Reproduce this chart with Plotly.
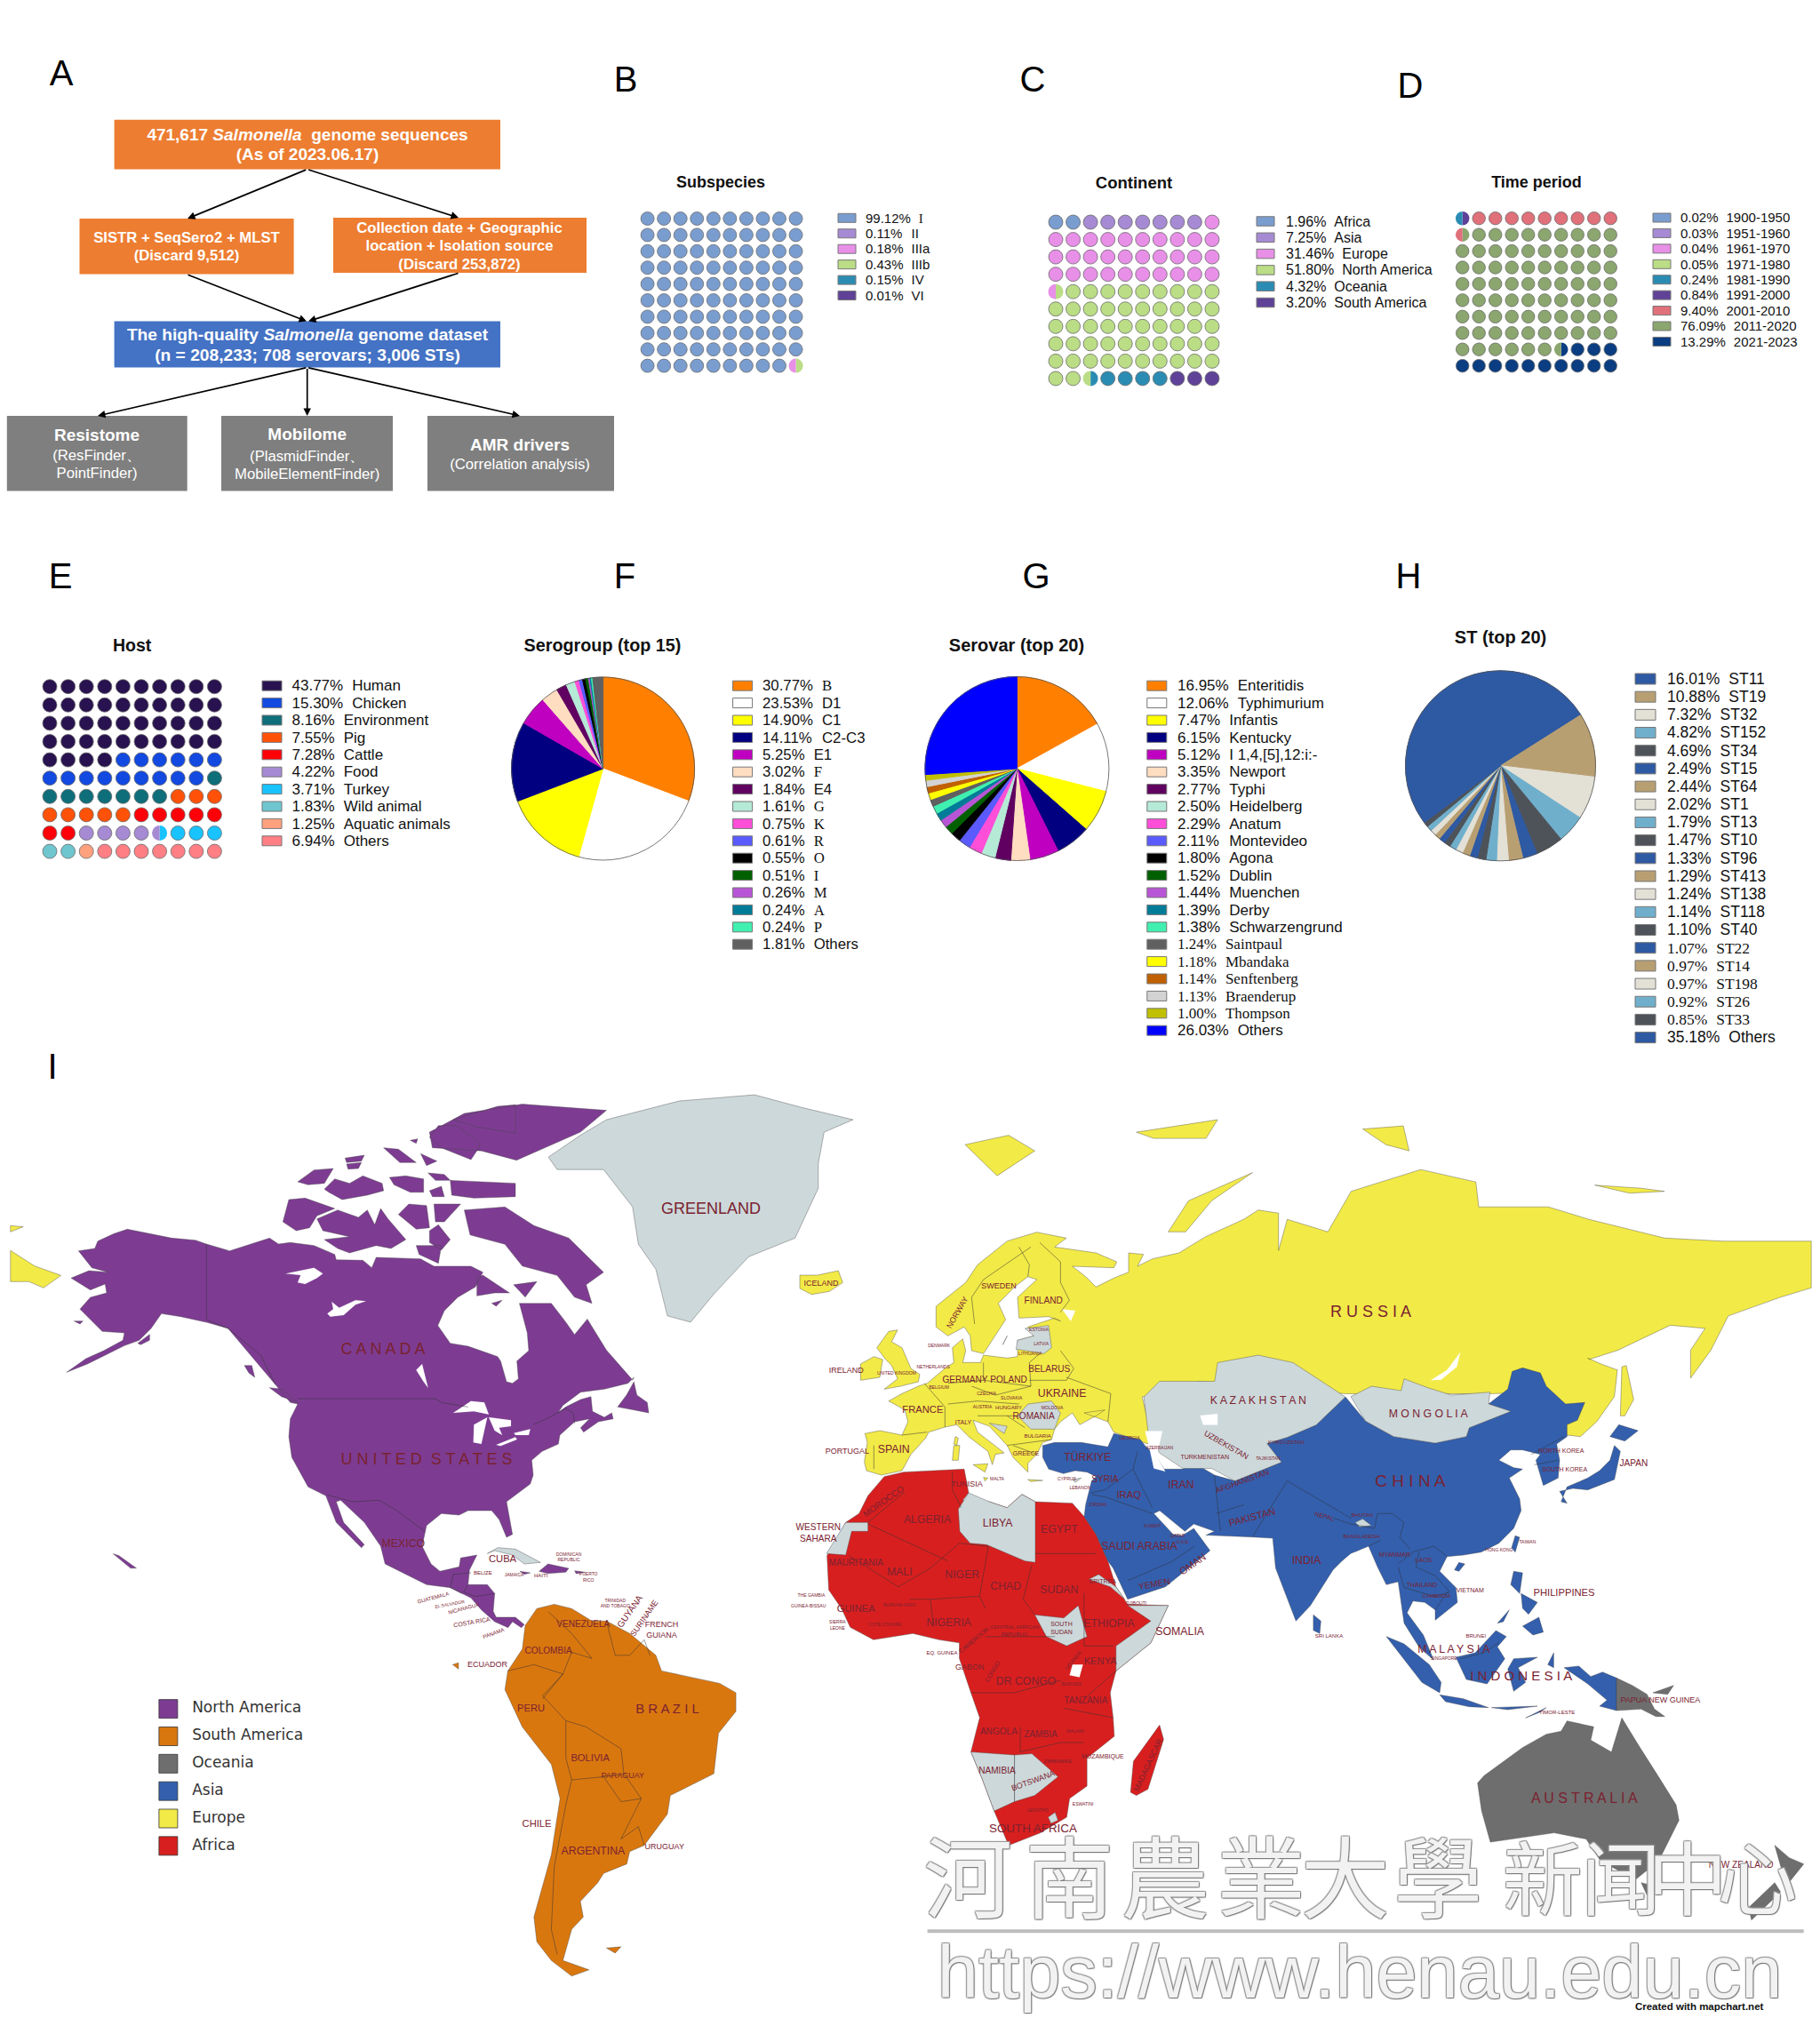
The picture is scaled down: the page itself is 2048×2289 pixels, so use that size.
import plotly.graph_objects as go

SANS = "Liberation Sans"
SERIF = "Liberation Serif"
W, H = 2048, 2289

# ---------- palettes ----------
pal_sub = ["#7A9DD0", "#A68AD3", "#E88FE8", "#BADD85", "#2B8CB3", "#5F4298"]
pal_time = pal_sub[:6] + ["#E0707A", "#8BA66E", "#0A3D82"]
pal_host = ["#28124F", "#1249E0", "#0E6E7A", "#FF5208", "#FF0008", "#A68AD3", "#19C3FF", "#6FC6CF", "#FFA17E", "#FF7F85"]
pal_sero = ["#FF8000", "#FFFFFF", "#FFFF00", "#000080", "#C000C0", "#FFDDC0", "#600060", "#B5EAD7", "#FF4FD8", "#5A5AFF",
            "#000000", "#006000", "#B855D6", "#007C99", "#40F0B0", "#606060"]
pal_serovar = pal_sero[:15] + ["#606060", "#FFFF00", "#C06000", "#D3D3D3", "#C0C000", "#0000FF"]
st_cycle = ["#2E59A3", "#B89F72", "#E3E0D6", "#70AFCC", "#4E5359"]
pal_st = [st_cycle[i % 5] for i in range(21)]

# ---------- panel data ----------
sub_names = ["I", "II", "IIIa", "IIIb", "IV", "VI"]
sub_pct = [99.12, 0.11, 0.18, 0.43, 0.15, 0.01]
cont_names = ["Africa", "Asia", "Europe", "North America", "Oceania", "South America"]
cont_pct = [1.96, 7.25, 31.46, 51.80, 4.32, 3.20]
time_names = ["1900-1950", "1951-1960", "1961-1970", "1971-1980", "1981-1990", "1991-2000", "2001-2010", "2011-2020", "2021-2023"]
time_pct = [0.02, 0.03, 0.04, 0.05, 0.24, 0.84, 9.40, 76.09, 13.29]
host_names = ["Human", "Chicken", "Environment", "Pig", "Cattle", "Food", "Turkey", "Wild animal", "Aquatic animals", "Others"]
host_pct = [43.77, 15.30, 8.16, 7.55, 7.28, 4.22, 3.71, 1.83, 1.25, 6.94]
sero_names = ["B", "D1", "C1", "C2-C3", "E1", "F", "E4", "G", "K", "R", "O", "I", "M", "A", "P", "Others"]
sero_pct = [30.77, 23.53, 14.90, 14.11, 5.25, 3.02, 1.84, 1.61, 0.75, 0.61, 0.55, 0.51, 0.26, 0.24, 0.24, 1.81]
serovar_names = ["Enteritidis", "Typhimurium", "Infantis", "Kentucky", "I 1,4,[5],12:i:-", "Newport", "Typhi", "Heidelberg",
                 "Anatum", "Montevideo", "Agona", "Dublin", "Muenchen", "Derby", "Schwarzengrund", "Saintpaul", "Mbandaka",
                 "Senftenberg", "Braenderup", "Thompson", "Others"]
serovar_pct = [16.95, 12.06, 7.47, 6.15, 5.12, 3.35, 2.77, 2.50, 2.29, 2.11, 1.80, 1.52, 1.44, 1.39, 1.38, 1.24, 1.18, 1.14, 1.13, 1.00, 26.03]
st_names = ["ST11", "ST19", "ST32", "ST152", "ST34", "ST15", "ST64", "ST1", "ST13", "ST10", "ST96", "ST413", "ST138", "ST118",
            "ST40", "ST22", "ST14", "ST198", "ST26", "ST33", "Others"]
st_pct = [16.01, 10.88, 7.32, 4.82, 4.69, 2.49, 2.44, 2.02, 1.79, 1.47, 1.33, 1.29, 1.24, 1.14, 1.10, 1.07, 0.97, 0.97, 0.92, 0.85, 35.18]

# waffle runs: (category index, count) or ((left index, right index), 1)
sub_cells = [(0, 99), ((2, 3), 1)]
cont_cells = [(0, 2), (1, 7), (2, 31), ((2, 3), 1), (3, 51), ((3, 4), 1), (4, 4), (5, 3)]
time_cells = [((4, 5), 1), (6, 9), ((6, 7), 1), (7, 75), ((7, 8), 1), (8, 13)]
host_cells = [(0, 44), (1, 15), (2, 8), (3, 8), (4, 7), (5, 4), ((5, 6), 1), (6, 3), (7, 2), (8, 1), (9, 7)]

fig = go.Figure()
TY = 1.5  # small downward nudge of text centred on a baseline estimate


def add_waffle(cells, palette, x0, y0, dx, dy, size):
    xs = {}
    n = 0
    for cat, count in cells:
        for _ in range(count):
            cx, cy = x0 + dx * (n % 10), y0 + dy * (n // 10)
            if isinstance(cat, tuple):
                r = size / 2 + 0.5
                fig.add_trace(go.Pie(values=[1, 1], sort=False, direction="clockwise", rotation=0,
                                     marker=dict(colors=[palette[cat[1]], palette[cat[0]]], line=dict(width=0)),
                                     textinfo="none", hoverinfo="skip", showlegend=False,
                                     domain=dict(x=[(cx - r) / W, (cx + r) / W], y=[1 - (cy + r) / H, 1 - (cy - r) / H])))
            else:
                xs.setdefault(cat, ([], []))
                xs[cat][0].append(cx)
                xs[cat][1].append(cy)
            n += 1
    for cat, (px, py) in xs.items():
        fig.add_trace(go.Scatter(x=px, y=py, mode="markers", hoverinfo="skip",
                                 marker=dict(symbol="circle", size=size, color=palette[cat], line=dict(color="#6a6a6a", width=0.8))))


shapes = []


def add_legend(pcts, names, palette, sw_x, y0, dy, sw_w, sw_h, text_x, fs, gap, label_fonts=None, pct_fonts=None):
    n = len(pcts)
    for i in range(n):
        y = y0 + dy * i
        shapes.append(dict(type="rect", xref="x", yref="y", x0=sw_x, x1=sw_x + sw_w, y0=y - sw_h / 2, y1=y + sw_h / 2,
                           fillcolor=palette[i], line=dict(color="#777777", width=1)))
    ptxt = [f"{p:.2f}%" for p in pcts]
    pfam = pct_fonts or [SANS] * n
    lfam = label_fonts or [SANS] * n
    lx = []
    for i, t in enumerate(ptxt):
        digits = len(t) - 2
        em = (0.556 * digits + 0.278 + 0.889) if pfam[i] == SANS else (0.5 * digits + 0.25 + 0.833)
        lx.append(text_x + em * fs + gap)
    ys = [y0 + dy * i + TY for i in range(n)]
    fig.add_trace(go.Scatter(x=[text_x] * n, y=ys, text=ptxt, mode="text", textposition="middle right", hoverinfo="skip",
                             textfont=dict(family=pfam, size=fs, color="#111111")))
    fig.add_trace(go.Scatter(x=lx, y=ys, text=names, mode="text", textposition="middle right", hoverinfo="skip",
                             textfont=dict(family=lfam, size=fs, color="#111111")))


def add_pie(values, palette, cx, cy, r):
    fig.add_trace(go.Pie(values=values, sort=False, direction="clockwise", rotation=0,
                         marker=dict(colors=palette, line=dict(color=palette, width=1)),
                         textinfo="none", hoverinfo="skip", showlegend=False,
                         domain=dict(x=[(cx - r) / W, (cx + r) / W], y=[1 - (cy + r) / H, 1 - (cy - r) / H])))
    shapes.append(dict(type="circle", xref="x", yref="y", x0=cx - r, x1=cx + r, y0=cy - r, y1=cy + r,
                       line=dict(color="#555555", width=0.8), layer="above"))


# ---------- flowchart ----------
flow_boxes = [
    (128.6, 563, 134.7, 190.5, "#ED7D31"), (89.5, 330.6, 246, 308.6, "#ED7D31"), (375, 660, 245, 307, "#ED7D31"),
    (128.6, 563, 361.6, 413.6, "#4472C4"), (7.8, 210.7, 468, 552.4, "#7F7F7F"), (249, 442, 468, 552.4, "#7F7F7F"),
    (481, 691, 468, 552.4, "#7F7F7F"),
]
for x0, x1, y0, y1, c in flow_boxes:
    shapes.append(dict(type="rect", xref="x", yref="y", x0=x0, x1=x1, y0=y0, y1=y1, fillcolor=c, line=dict(width=0), layer="below"))

flow_text = ["<b>471,617 <i>Salmonella</i>  genome sequences</b>", "<b>(As of 2023.06.17)</b>", "<b>SISTR + SeqSero2 + MLST</b>",
             "<b>(Discard 9,512)</b>", "<b>Collection date + Geographic</b>", "<b>location + Isolation source</b>",
             "<b>(Discard 253,872)</b>", "<b>The high-quality <i>Salmonella</i> genome dataset</b>",
             "<b>(n = 208,233; 708 serovars; 3,006 STs)</b>", "<b>Resistome</b>", "(ResFinder、", "PointFinder)", "<b>Mobilome</b>",
             "(PlasmidFinder、", "MobileElementFinder)", "<b>AMR drivers</b>", "(Correlation analysis)"]
flow_x = [346, 346, 210, 210, 517, 517, 517, 346, 346, 109, 109, 109, 345.7, 345.7, 345.7, 585, 585]
flow_y = [v + TY for v in [152, 174, 267, 287, 256, 276.6, 297, 377, 400, 490, 512, 532, 489, 513.5, 533.5, 500.7, 522]]
flow_size = [19, 19, 16.7, 16.7, 16.7, 16.7, 16.7, 19.2, 19.2, 19, 16.7, 16.7, 19, 16.7, 16.7, 19, 16.7]
fig.add_trace(go.Scatter(x=flow_x, y=flow_y, text=flow_text, mode="text", hoverinfo="skip",
                         textfont=dict(family=SANS, size=flow_size, color="#FFFFFF")))

flow_arrows = [(345.7, 190.5, 211, 246), (345.7, 190.5, 516, 245), (210, 308.6, 345, 361.6), (517, 307, 347, 361.6),
               (345.7, 413.6, 110, 468), (345.7, 413.6, 345.7, 468), (345.7, 413.6, 585, 468)]
annotations = []
for ax, ay, x, y in flow_arrows:
    annotations.append(dict(x=x, y=y, ax=ax, ay=ay, xref="x", yref="y", axref="x", ayref="y", text="", showarrow=True,
                            arrowhead=2, arrowsize=1, arrowwidth=1.7, arrowcolor="#000000"))

# ---------- panels ----------
add_waffle(sub_cells, pal_sub, 728.6, 246, 18.55, 18.4, 15)
add_legend(sub_pct, sub_names, pal_sub, 943, 245.3, 17.45, 20, 10, 974, 15, 9, label_fonts=[SERIF] + [SANS] * 5)
add_waffle(cont_cells, pal_sub, 1188, 250, 19.55, 19.55, 16)
add_legend(cont_pct, cont_names, pal_sub, 1414, 249, 18.3, 20, 10.5, 1447, 16, 9)
add_waffle(time_cells, pal_time, 1645.7, 245.7, 18.5, 18.44, 14.5)
add_legend(time_pct, time_names, pal_time, 1860, 245, 17.43, 20, 10, 1891, 15, 9)
add_waffle(host_cells, pal_host, 56, 772.7, 20.6, 20.6, 16)
add_legend(host_pct, host_names, pal_host, 295, 771.7, 19.4, 22, 11, 328.5, 17, 10)

add_pie(sero_pct, pal_sero, 678.6, 865, 103)
sero_fonts = [SERIF if len(n) == 1 else SANS for n in sero_names]
add_legend(sero_pct, sero_names, pal_sero, 824.6, 771.7, 19.4, 22, 11, 858, 16.8, 10, label_fonts=sero_fonts)

add_pie(serovar_pct, pal_serovar, 1144.4, 865, 103.5)
sv_fonts = [SERIF if 15 <= i <= 19 else SANS for i in range(21)]
add_legend(serovar_pct, serovar_names, pal_serovar, 1290.8, 771.7, 19.4, 22, 11, 1325, 17, 10, label_fonts=sv_fonts, pct_fonts=sv_fonts)

add_pie(st_pct, pal_st, 1688.5, 861.8, 107)
st_fonts = [SERIF if 15 <= i <= 19 else SANS for i in range(21)]
add_legend(st_pct, st_names, pal_st, 1840, 764, 20.18, 23, 12, 1876, 17.5, 10, label_fonts=st_fonts, pct_fonts=st_fonts)

title_text = ["Subspecies", "Continent", "Time period", "Host", "Serogroup (top 15)", "Serovar (top 20)", "ST (top 20)"]
title_x = [811, 1276, 1729, 148.6, 678, 1144, 1688.5]
title_y = [206, 207, 206, 728, 728, 728, 719]
title_size = [18, 18.5, 18, 19.5, 19.8, 20, 20]
fig.add_trace(go.Scatter(x=title_x, y=title_y, text=[f"<b>{t}</b>" for t in title_text], mode="text", hoverinfo="skip",
                         textfont=dict(family=SANS, size=title_size, color="#111111")))
panel_letters = ["A", "B", "C", "D", "E", "F", "G", "H", "I"]
letter_x = [69, 704, 1162, 1587, 68, 703, 1166, 1585, 59]
letter_y = [86, 93, 93, 100, 652, 652, 652, 652, 1204]
fig.add_trace(go.Scatter(x=letter_x, y=letter_y, text=panel_letters, mode="text", hoverinfo="skip",
                         textfont=dict(family=SANS, size=40, color="#000000")))

# ---------- map outlines ----------
# Outlines were read off enlarged views of the map; each list keeps the units of its view and
# view() / west() / east() bring them onto the shared map axis.
SX, SY = 3136 / W, 1568 / (H - 1190)


def view(ox, oy, pts):
    return [((ox + x / 3) * SX, (oy + y / 3 - 1190) * SY) for x, y in pts]


def v1(pts):  # North-west view
    return view(60, 1225, pts)


def v2(pts):  # North/Central America view
    return view(300, 1500, pts)


def v3(pts):  # Europe view
    return view(900, 1360, pts)


def v4(pts):  # East Asia view
    return view(1500, 1500, pts)


def west(pts):
    return list(pts)


def east(pts):
    return [(x + 1568, y) for x, y in pts]


na_north = [(85, 548), (140, 540), (150, 515), (205, 490), (250, 475), (320, 490), (400, 505), (480, 512), (517, 525), (595, 548), (650, 530), (730, 505), (760, 525),
            (800, 520), (880, 530), (950, 560), (955, 578), (1045, 580), (1075, 605), (1090, 570), (1240, 575), (1285, 600), (1410, 600), (1450, 620), (1425, 670),
            (1365, 705), (1320, 750), (1298, 800), (1340, 860), (1400, 870), (1500, 905)]
na_james = [(790, 95), (810, 165), (830, 170), (850, 155), (845, 95), (885, 60), (880, 0)]
na_ungava = [(895, 395), (950, 395), (975, 425), (990, 445), (1012, 420), (1045, 470), (1090, 518)]
na_south = [(1240, 150), (1220, 170), (1140, 190), (1060, 200), (1000, 245), (985, 268), (1010, 250), (1060, 225), (1095, 215), (1100, 265), (1140, 285), (1165, 270), (1170, 290),
            (1120, 300), (1070, 335), (1060, 320), (1090, 290), (1040, 300), (990, 345), (985, 375), (930, 400), (895, 430), (900, 480), (890, 510), (810, 570), (830, 680),
            (810, 690), (785, 630), (760, 600), (680, 600), (650, 615), (590, 610), (540, 650), (525, 720), (555, 780), (585, 805), (650, 790), (655, 760), (710, 750), (685, 800),
            (680, 850), (745, 850), (770, 880), (765, 940), (775, 960), (840, 960), (870, 985), (860, 995), (830, 975), (815, 995), (770, 975), (725, 935), (690, 895), (620, 860),
            (540, 850), (400, 780), (385, 720), (330, 640), (250, 565), (235, 570), (260, 640), (330, 715), (320, 725), (235, 640), (200, 550), (140, 520), (85, 420), (75, 350),
            (80, 290), (105, 240)]
na_west = [(800, 1060), (750, 1000), (700, 940), (650, 880), (590, 810), (520, 790), (430, 770), (365, 760), (330, 810), (290, 850), (240, 868), (180, 898), (115, 930), (45, 958),
           (110, 912), (170, 885), (235, 850), (240, 825), (165, 820), (90, 745), (125, 705), (180, 690), (175, 660), (125, 680), (60, 640), (120, 615), (185, 620), (130, 605)]
na_main = v1(na_north) + v2(na_james) + west(na_ungava) + v2(na_south) + v1(na_west)

arctic_v1 = [
    [(795, 375), (850, 370), (950, 405), (890, 430), (865, 470), (820, 480), (775, 450)],
    [(890, 440), (960, 410), (1030, 435), (1060, 410), (1085, 460), (1105, 405), (1130, 440), (1190, 510), (1140, 540), (1090, 530), (1000, 555), (960, 540), (915, 510), (1000, 500), (910, 480)],
    [(1165, 425), (1200, 390), (1260, 395), (1270, 470), (1225, 475)],
    [(1285, 390), (1375, 390), (1320, 450), (1290, 450)],
    [(1270, 480), (1300, 460), (1340, 510), (1310, 545), (1270, 520)],
    [(1225, 530), (1310, 530), (1300, 590), (1235, 560)],
    [(825, 315), (880, 275), (945, 270), (915, 320), (860, 325)],
    [(915, 340), (950, 305), (1000, 320), (1045, 295), (1110, 320), (1115, 345), (1060, 360), (975, 375), (930, 350)],
    [(1135, 300), (1190, 295), (1250, 305), (1250, 350), (1205, 350), (1150, 325)],
    [(1115, 200), (1165, 205), (1225, 250), (1170, 250)],
    [(1240, 220), (1295, 245), (1260, 260)],
    [(985, 235), (1050, 225), (1040, 245), (990, 250)],
    [(990, 255), (1040, 250), (1030, 270), (995, 272)],
    [(1340, 310), (1560, 320), (1560, 365), (1420, 370), (1345, 360)],
    [(1265, 285), (1320, 290), (1340, 310), (1290, 310)],
    [(1270, 345), (1310, 330), (1320, 365), (1280, 365)],
    [(1270, 165), (1300, 125), (1360, 125), (1430, 175), (1440, 195), (1410, 240), (1310, 200)],
    [(1350, 105), (1500, 60), (1560, 55), (1560, 150), (1430, 130)],
    [(1205, 175), (1230, 170), (1225, 185)],
    [(1430, 640), (1450, 630), (1540, 690), (1490, 690), (1430, 700)],
    [(1480, 725), (1515, 715), (1495, 735)],
    [(730, 1010), (775, 1015), (825, 1060), (770, 1040)],
    [(645, 935), (670, 935), (680, 975), (660, 960)],
    [(285, 860), (325, 830), (325, 850), (295, 865)],
    [(70, 785), (100, 785), (90, 795)],
]
arctic_w = [
    [(800, 245), (870, 240), (920, 270), (980, 290), (1040, 345), (1010, 365), (1020, 395), (990, 385), (960, 350), (900, 335), (870, 300), (810, 285)],
    [(740, 120), (800, 90), (900, 75), (1045, 85), (1000, 120), (890, 165), (830, 150), (745, 145)],
    [(885, 365), (925, 360), (905, 385)],
    [(195, 797), (205, 800), (235, 820), (225, 820)],
]
caribbean_v2 = [
    [(1185, 250), (1215, 210), (1240, 165), (1250, 210), (1285, 235), (1290, 270), (1240, 260)],
    [(920, 805), (950, 780), (1020, 795), (1010, 808), (950, 812)],
    [(855, 805), (890, 810), (870, 815)],
    [(1040, 803), (1075, 808), (1045, 813)],
]
lakes_v1 = [
    [(785, 625), (880, 605), (910, 625), (890, 640), (850, 660), (825, 655), (835, 630)],
    [(925, 760), (945, 745), (940, 720), (965, 740), (1020, 715), (1055, 718), (1020, 730), (980, 765), (935, 770)],
    [(1225, 950), (1245, 930), (1265, 1010), (1250, 990)],
]
lakes_v2 = [
    [(630, 270), (690, 230), (735, 235), (750, 275), (700, 265), (650, 270)],
    [(700, 310), (745, 285), (725, 375), (698, 370)],
    [(750, 285), (825, 295), (825, 315), (785, 320), (795, 345), (770, 330)],
    [(775, 378), (840, 352), (845, 360), (790, 382)],
    [(835, 338), (890, 325), (885, 345), (840, 345)],
]
greenland = [(945, 160), (1000, 125), (1045, 100), (1170, 70), (1300, 60), (1380, 80), (1470, 100), (1420, 120), (1410, 170), (1410, 210),
             (1370, 290), (1290, 320), (1230, 380), (1190, 425), (1150, 415), (1130, 340), (1100, 300), (1090, 240), (1040, 180), (960, 180)]
cuba_v2 = [(745, 745), (780, 725), (840, 730), (925, 775), (870, 780), (830, 750), (770, 735)]
south_america = [(905, 912), (925, 885), (955, 878), (985, 885), (1020, 905), (1045, 905), (1085, 925), (1130, 960), (1140, 985), (1190, 995),
                 (1240, 1005), (1268, 1020), (1268, 1050), (1238, 1085), (1230, 1150), (1155, 1185), (1150, 1215), (1110, 1265), (1085, 1275),
                 (1080, 1295), (1040, 1310), (1030, 1325), (1000, 1355), (1005, 1380), (985, 1400), (970, 1450), (1015, 1465), (985, 1475),
                 (950, 1450), (925, 1420), (920, 1380), (935, 1330), (950, 1280), (965, 1190), (950, 1135), (900, 1075), (870, 1015), (875, 985), (900, 950)]
sa_islands = [[(780, 975), (790, 972), (790, 982)], [(1045, 1430), (1070, 1428), (1060, 1438)]]
chukotka_w = [(18, 310), (60, 335), (105, 350), (75, 370), (50, 360), (18, 360)]
wrangel_w = [(18, 270), (40, 272), (18, 280)]

europe_v3 = [(275, 900), (225, 885), (218, 855), (228, 790), (220, 760), (270, 750), (345, 765), (365, 720), (355, 680), (300, 650), (345, 625), (400, 600), (430, 590), (490, 540),
             (520, 520), (515, 470), (550, 440), (560, 480), (550, 520), (610, 520), (620, 495), (700, 505), (735, 500), (735, 445), (790, 430), (770, 400), (860, 370), (880, 380),
             (840, 365), (740, 370), (735, 300), (800, 240), (770, 230), (725, 265), (670, 320), (695, 375), (620, 490), (580, 480), (575, 430), (555, 400), (500, 430), (460, 400),
             (460, 330), (560, 250), (600, 190), (700, 110), (800, 80), (900, 100), (860, 130), (1000, 150), (1070, 180), (1060, 200), (920, 195), (965, 230), (1000, 265), (1060, 235),
             (1110, 215), (1110, 150), (1160, 155), (1140, 195), (1190, 170), (1280, 150), (1370, 95)]
russia_north_e = [(575, 260), (600, 245), (635, 250), (635, 310), (650, 260), (720, 280), (760, 215), (880, 180), (975, 200), (980, 240), (1100, 240), (1170, 260), (1300, 290), (1400, 295),
                  (1553, 295), (1553, 370), (1500, 385), (1410, 415), (1380, 470), (1345, 515), (1345, 470), (1370, 435), (1310, 430), (1220, 470), (1170, 485)]
russia_far_east_v4 = [(860, 85), (905, 105), (960, 125), (950, 215), (890, 300), (835, 350), (790, 345), (700, 200)]
russia_south_e = [(1000, 540), (750, 540), (500, 520), (400, 545)]
europe_south_v3 = [(1195, 800), (1160, 790), (1060, 755), (1040, 720), (960, 690), (1030, 680), (1000, 700), (945, 730), (920, 690), (880, 720), (860, 745), (850, 780), (820, 790), (800, 830),
                   (770, 860), (770, 890), (720, 840), (700, 800), (640, 735), (585, 715), (600, 755), (690, 825), (660, 830), (650, 865), (635, 820), (570, 770), (530, 730), (490, 738),
                   (435, 755), (425, 775), (375, 830), (345, 885)]
eurasia_yellow = v3(europe_v3) + east(russia_north_e) + v4(russia_far_east_v4) + east(russia_south_e) + v3(europe_south_v3)
europe_islands_v3 = [
    [(300, 415), (330, 410), (310, 450), (345, 470), (375, 540), (405, 560), (400, 585), (340, 600), (285, 610), (330, 575), (310, 530), (290, 510), (260, 470)],
    [(205, 525), (250, 500), (280, 510), (270, 570), (205, 580)],
    [(0, 225), (60, 225), (130, 210), (145, 250), (100, 280), (40, 290), (0, 270)],
    [(585, 865), (635, 862), (625, 890)],
    [(520, 800), (540, 800), (535, 850), (515, 850)],
    [(525, 770), (535, 775), (530, 800), (520, 795)],
    [(770, 915), (820, 918), (780, 922)],
    [(620, 908), (635, 910), (625, 920)],
    [(690, 450), (700, 430), (685, 460)],
]
europe_islands_e = [
    [(95, 140), (170, 125), (215, 150), (150, 190)],
    [(390, 120), (530, 100), (510, 130), (420, 130)],
    [(780, 115), (850, 110), (860, 150), (820, 140)],
    [(1180, 205), (1260, 210), (1300, 215), (1240, 218)],
    [(445, 280), (480, 230), (590, 185), (520, 230), (475, 280)],
]
sakhalin_v4 = [(975, 115), (990, 110), (1015, 225), (985, 280), (970, 280)]
africa_north_v3 = [(155, 1060), (200, 1030), (230, 970), (285, 905), (350, 890), (470, 885), (555, 880), (570, 960), (550, 985), (640, 990), (700, 1010), (750, 965), (795, 990), (920, 995),
                   (960, 1040), (1000, 1100), (1040, 1190)]
africa_rest_e = [(355, 850), (375, 878), (445, 880), (415, 940), (355, 985), (345, 1020), (350, 1060), (352, 1090), (305, 1125), (305, 1170), (275, 1190), (270, 1220), (225, 1245), (170, 1265),
                 (145, 1210), (125, 1160), (105, 1115), (120, 1060), (105, 1020), (85, 965), (85, 940), (50, 935), (5, 925), (-63, 935), (-103, 915), (-118, 885), (-140, 855), (-143, 800)]
madagascar_e = [(380, 1180), (385, 1130), (430, 1072), (437, 1095), (410, 1175), (390, 1185)]
africa_gray_v3 = [
    [(90, 1165), (155, 1060), (230, 1060), (230, 1090), (175, 1090), (155, 1170)],
    [(570, 960), (640, 990), (700, 1010), (750, 965), (795, 990), (795, 1195), (760, 1190), (630, 1135), (575, 1130), (540, 1090), (535, 1015)],
]
africa_gray_e = [
    [(105, 1115), (180, 1120), (180, 1195), (145, 1210), (125, 1160)],
    [(180, 1120), (210, 1118), (255, 1155), (215, 1185), (180, 1195)],
    [(215, 895), (265, 900), (290, 880), (305, 930), (270, 945), (235, 930)],
    [(375, 880), (445, 880), (415, 940), (355, 985), (355, 945), (415, 905)],
    [(308, 838), (325, 830), (355, 850), (370, 870), (345, 850)],
    [(238, 1220), (250, 1212), (255, 1225), (243, 1230)],
]
asia_turkey_v3 = [(820, 800), (860, 790), (950, 790), (1040, 805), (1060, 760), (1150, 780), (1165, 800), (1205, 840), (1230, 880), (1290, 880), (1340, 865), (1400, 900)]
asia_central_e = [(560, 680), (640, 650), (615, 620), (650, 610), (700, 590)]
asia_east_v4 = [(42, 216), (110, 298), (205, 350), (345, 372), (450, 350), (460, 320), (600, 265), (525, 240), (590, 190), (605, 130), (640, 118), (700, 135), (720, 180), (785, 240), (850, 235), (825, 295),
                (790, 310), (790, 350), (755, 375), (765, 430), (760, 490), (710, 515), (685, 430), (700, 410), (640, 395), (600, 395), (560, 430), (610, 455), (640, 460), (595, 490), (630, 560), (635, 600),
                (610, 660), (560, 710), (500, 740), (440, 750), (385, 755), (360, 805), (415, 860), (420, 910), (345, 970), (345, 935), (310, 910), (270, 905), (250, 945), (305, 1020), (340, 1105), (290, 1060),
                (240, 980), (220, 840), (180, 850), (150, 790), (120, 720), (60, 745), (30, 770), (0, 800)]
asia_india_e = [(690, 880), (665, 905), (630, 820), (625, 772), (590, 770), (510, 767)]
asia_gulf_v3 = [(1400, 1090), (1330, 1065), (1300, 1090), (1215, 1020), (1195, 1030), (1260, 1100), (1290, 1105), (1330, 1080), (1385, 1155)]
asia_arabia_e = [(440, 850), (375, 870), (350, 820)]
asia_west_v3 = [(1040, 1190), (1000, 1100), (960, 1040), (965, 1000), (985, 920), (1000, 905), (970, 890), (930, 885), (890, 895), (840, 880), (820, 840)]
asia_blue = v3(asia_turkey_v3) + east(asia_central_e) + v4(asia_east_v4) + east(asia_india_e) + v3(asia_gulf_v3) + east(asia_arabia_e) + v3(asia_west_v3)
asia_islands_v4 = [
    [(965, 310), (1030, 330), (985, 365), (935, 350)],
    [(950, 380), (970, 400), (950, 495), (860, 530), (810, 525), (765, 535), (790, 575), (770, 570), (790, 520), (860, 490), (900, 465), (935, 430)],
    [(615, 685), (630, 690), (615, 740), (603, 725)],
    [(425, 775), (445, 780), (425, 805), (410, 800)],
    [(610, 805), (640, 810), (630, 880), (600, 850)],
    [(640, 990), (695, 960), (710, 1010), (675, 1020)],
    [(635, 880), (690, 910), (660, 950), (640, 930)],
    [(555, 980), (595, 935), (575, 975)],
    [(180, 1025), (240, 1050), (325, 1120), (365, 1180), (360, 1215), (300, 1180)],
    [(415, 1095), (480, 1080), (550, 1005), (585, 1025), (555, 1060), (580, 1100), (545, 1150), (520, 1185), (450, 1170)],
    [(590, 1135), (610, 1100), (690, 1095), (625, 1130), (650, 1180), (610, 1210)],
    [(360, 1222), (440, 1235), (525, 1265), (460, 1262), (380, 1245)],
    [(535, 1265), (690, 1260), (590, 1272)],
    [(650, 1300), (720, 1265), (700, 1280)],
    [(725, 1120), (745, 1080), (745, 1130)],
    [(780, 1130), (830, 1125), (870, 1160), (910, 1145), (957, 1165), (957, 1275), (900, 1260), (925, 1240), (860, 1185)],
]
sri_lanka_e = [(695, 895), (708, 905), (706, 925), (695, 920)]
central_gray_e = [[(403, 545), (430, 520), (525, 520), (530, 490), (600, 478), (660, 490), (750, 545), (700, 590), (650, 610), (615, 620), (640, 650), (560, 680), (520, 660), (470, 660), (430, 635), (410, 600)]]
central_gray_v3 = [
    [(760, 405), (840, 395), (850, 470), (825, 490), (730, 475), (735, 445), (790, 430)],
    [(735, 700), (770, 660), (850, 650), (880, 690), (860, 745), (780, 745)],
    [(640, 725), (700, 735), (690, 760)],
    [(920, 915), (950, 910), (930, 925)],
]
central_gray_v4 = [
    [(60, 215), (130, 180), (230, 195), (240, 155), (320, 185), (400, 210), (530, 200), (525, 240), (600, 265), (460, 320), (450, 350), (345, 372), (205, 350), (110, 298)],
    [(75, 640), (100, 628), (130, 650), (90, 655)],
]
lakes_e = [[(405, 600), (435, 600), (425, 640), (440, 665), (420, 660), (412, 625)], [(500, 575), (530, 572), (530, 590), (505, 590)], [(280, 975), (298, 975), (292, 995), (275, 992)]]
black_sea_v3 = [[(885, 340), (930, 345), (915, 380)]]
baikal_v4 = [[(330, 160), (385, 125), (430, 65), (418, 115), (365, 158)]]
australia_north_v4 = [(510, 1495), (640, 1400), (720, 1355), (770, 1345), (790, 1310), (880, 1330), (870, 1375), (940, 1415), (975, 1300), (1030, 1390), (1100, 1500)]
australia_south_e = [(1320, 1200), (1325, 1225), (1290, 1290), (1250, 1320), (1190, 1290), (1165, 1255), (1110, 1245), (1000, 1260), (985, 1210), (978, 1165)]
oceania_e = [
    [(1260, 1325), (1280, 1330), (1270, 1345)],
    [(1490, 1265), (1515, 1285), (1540, 1295), (1510, 1330)],
    [(1490, 1325), (1500, 1340), (1450, 1385), (1445, 1365)],
]
png_v4 = [[(957, 1165), (1010, 1190), (1060, 1220), (1085, 1270), (1120, 1295), (1090, 1295), (1040, 1270), (957, 1275)], [(1080, 1215), (1150, 1190), (1130, 1220)]]
borders_v1 = [[(517, 525), (517, 780), (590, 810), (700, 900), (750, 1000)]]
borders_v2 = [[(105, 222), (570, 222), (590, 235), (650, 245), (680, 250)], [(900, 310), (945, 290), (1010, 255), (1035, 270), (1040, 305)],
              [(205, 547), (290, 570), (380, 565), (440, 600), (480, 630), (535, 670)], [(690, 810), (630, 815), (620, 860), (660, 880)], [(680, 850), (665, 875), (705, 890), (770, 880)]]
borders_w = [
    [(945, 890), (985, 925), (1020, 965)], [(875, 985), (920, 975), (970, 990), (935, 1030)], [(1020, 965), (985, 955), (970, 990), (935, 1025), (975, 1065), (975, 1125)],
    [(975, 1065), (1010, 1075), (1070, 1110), (1075, 1150), (1040, 1155), (985, 1160), (975, 1125)],
    [(1040, 1155), (1070, 1195), (1105, 1190), (1075, 1150)], [(985, 1160), (975, 1200), (955, 1300), (950, 1400), (960, 1440)],
    [(1070, 1255), (1100, 1235), (1110, 1265)], [(1045, 905), (1060, 960), (1085, 960), (1110, 935), (1120, 960)], [(1105, 1190), (1070, 1255)],
]
borders_v3 = [
    [(250, 800), (250, 880)], [(345, 765), (430, 755)], [(420, 590), (490, 670), (490, 738)], [(500, 590), (620, 580), (620, 520)], [(620, 580), (780, 600), (775, 520)], [(775, 520), (810, 490)],
    [(775, 580), (900, 580), (925, 540), (880, 480)], [(900, 570), (1050, 625), (1040, 720)], [(580, 600), (660, 630), (780, 600)], [(500, 660), (600, 650), (740, 660)], [(600, 700), (700, 700), (740, 700)],
    [(700, 700), (760, 740)], [(700, 800), (850, 780)], [(720, 800), (800, 830)], [(580, 300), (620, 240), (780, 130)], [(580, 300), (590, 390)], [(740, 130), (775, 190), (770, 230)],
    [(810, 115), (880, 180), (880, 250), (910, 310), (880, 350)], [(230, 1060), (350, 960), (355, 965)], [(515, 890), (515, 950), (545, 1010)], [(230, 1065), (500, 1190)], [(795, 1165), (1000, 1165)],
    [(1140, 820), (1125, 880), (1190, 1010)], [(980, 960), (1030, 950), (1125, 880)], [(985, 965), (1035, 975), (1190, 1030)], [(1400, 900), (1420, 1090)], [(1405, 1030), (1500, 1000)],
]
borders_e = [
    [(-105, 800), (-20, 850), (35, 820), (85, 780), (135, 785)], [(135, 785), (120, 865), (130, 885)], [(210, 815), (195, 870), (215, 895)], [(0, 870), (35, 870), (120, 865)],
    [(35, 870), (40, 910)], [(300, 860), (300, 945), (350, 945)], [(250, 930), (130, 930)], [(105, 1020), (180, 1020), (260, 1000)], [(190, 1075), (190, 1115), (260, 1100), (300, 1100)],
    [(265, 1045), (350, 1060)], [(300, 1030), (355, 985)], [(375, 840), (450, 810), (490, 785)], [(590, 770), (650, 680)], [(650, 680), (760, 740)],
]
borders_v4 = [[(0, 625), (60, 645), (140, 660), (150, 610), (200, 610), (240, 640), (225, 690), (260, 730)], [(120, 720), (160, 700)], [(220, 780), (270, 740), (340, 720), (385, 755)],
              [(290, 740), (280, 790), (345, 820), (390, 870), (345, 935)], [(220, 790), (240, 860), (345, 890), (395, 875)], [(670, 410), (780, 350)], [(680, 445), (760, 430)],
              [(430, 1100), (510, 1080), (560, 1045)]]


def add_polys(polys, color, line="#444444", lw=0.4):
    xs, ys = [], []
    for p in polys:
        xs += [a for a, _ in p] + [p[0][0], None]
        ys += [b for _, b in p] + [p[0][1], None]
    fig.add_trace(go.Scatter(x=xs, y=ys, xaxis="x2", yaxis="y2", mode="lines", fill="toself", fillcolor=color, hoverinfo="skip",
                             line=dict(color=line, width=lw)))


C_NA, C_SA, C_OC, C_AS, C_EU, C_AF, C_GR = "#7D3C92", "#D9770F", "#6E6E6E", "#335FAD", "#F2EA47", "#D81F1F", "#CDD8DA"
add_polys([west(greenland), v2(cuba_v2)], C_GR)
add_polys([na_main] + [v1(p) for p in arctic_v1] + [west(p) for p in arctic_w] + [v2(p) for p in caribbean_v2], C_NA)
add_polys([west(south_america)] + [west(p) for p in sa_islands], C_SA)
add_polys([eurasia_yellow, west(chukotka_w), west(wrangel_w), v4(sakhalin_v4)] + [v3(p) for p in europe_islands_v3] + [east(p) for p in europe_islands_e], C_EU)
add_polys([v3(africa_north_v3) + east(africa_rest_e), east(madagascar_e)], C_AF)
add_polys([v3(p) for p in africa_gray_v3] + [east(p) for p in africa_gray_e], C_GR)
add_polys([asia_blue, east(sri_lanka_e)] + [v4(p) for p in asia_islands_v4], C_AS)
add_polys([east(p) for p in central_gray_e] + [v3(p) for p in central_gray_v3] + [v4(p) for p in central_gray_v4], C_GR)
add_polys([v4(australia_north_v4) + east(australia_south_e)] + [east(p) for p in oceania_e] + [v4(p) for p in png_v4], C_OC)
add_polys([v1(p) for p in lakes_v1] + [v2(p) for p in lakes_v2] + [east(p) for p in lakes_e] + [v3(p) for p in black_sea_v3] + [v4(p) for p in baikal_v4],
          "#FFFFFF", "#FFFFFF", 0.1)

bx, by = [], []
all_borders = ([v1(p) for p in borders_v1] + [v2(p) for p in borders_v2] + [west(p) for p in borders_w] + [v3(p) for p in borders_v3] +
               [east(p) for p in borders_e] + [v4(p) for p in borders_v4])
for p in all_borders:
    bx += [a for a, _ in p] + [None]
    by += [b for _, b in p] + [None]
fig.add_trace(go.Scatter(x=bx, y=by, xaxis="x2", yaxis="y2", mode="lines", hoverinfo="skip", line=dict(color="#333333", width=0.5)))

# ---------- map labels ----------
west_labels = [
    ("C A N A D A", 660, 470, 18), ("U N I T E D\u00a0 S T A T E S", 735, 647, 18), ("GREENLAND", 1225, 245, 18), ("ICELAND", 1415, 363, 8),
    ("IRELAND", 1458, 503, 8), ("UNITED KINGDOM", 1545, 508, 5), ("PORTUGAL", 1460, 633, 8), ("SPAIN", 1540, 630, 11), ("WESTERN<br>SAHARA", 1410, 765, 9),
    ("MAURITANIA", 1475, 812, 9), ("THE GAMBIA", 1398, 864, 5), ("GUINEA-BISSAU", 1393, 881, 5), ("SIERRA<br>LEONE", 1443, 912, 5), ("GUINEA", 1475, 887, 10),
    ("COTE D'IVOIRE", 1525, 912, 5), ("MALI", 1550, 828, 11), ("BURKINA FASO", 1550, 880, 5), ("MEXICO", 695, 782, 11), ("CUBA", 866, 807, 10),
    ("DOMINICAN<br>REPUBLIC", 980, 803, 5), ("BELIZE", 832, 828, 6), ("JAMAICA", 886, 832, 5), ("HAITI", 932, 833, 6), ("PUERTO<br>RICO", 1014, 835, 5),
    ("TRINIDAD<br>AND TOBAGO", 1060, 877, 5), ("FRENCH<br>GUIANA", 1140, 920, 8), ("VENEZUELA", 1005, 911, 9), ("COLOMBIA", 945, 954, 9), ("ECUADOR", 840, 975, 8),
    ("B R A Z I L", 1150, 1048, 15), ("PERU", 915, 1046, 10), ("BOLIVIA", 1017, 1126, 10), ("PARAGUAY", 1073, 1154, 8), ("CHILE", 925, 1232, 10),
    ("ARGENTINA", 1022, 1276, 11), ("URUGUAY", 1145, 1268, 8),
]
east_labels = [
    ("R U S S I A", 794, 410, 18), ("SWEDEN", 153, 368, 8), ("FINLAND", 230, 392, 9), ("DENMARK", 50, 464, 5), ("ESTONIA", 222, 437, 5), ("LATVIA", 226, 461, 5),
    ("LITHUANIA", 207, 476, 5), ("NETHERLANDS", 40, 498, 5), ("BELGIUM", 50, 530, 5), ("GERMANY", 95, 519, 9), ("POLAND", 170, 518, 9), ("BELARUS", 240, 501, 9),
    ("UKRAINE", 262, 541, 11), ("CZECHIA", 132, 540, 5), ("SLOVAKIA", 175, 547, 5), ("AUSTRIA", 125, 562, 5), ("HUNGARY", 170, 563, 6), ("MOLDOVA", 245, 563, 5),
    ("ROMANIA", 213, 577, 9), ("FRANCE", 22, 566, 10), ("ITALY", 92, 587, 7), ("BULGARIA", 220, 609, 6), ("GREECE", 200, 637, 7), ("MALTA", 150, 677, 5), ("TUNISIA", 98, 686, 8),
    ("ALGERIA", 30, 743, 11), ("LIBYA", 151, 749, 11), ("EGYPT", 257, 759, 11), ("NIGER", 90, 831, 11), ("CHAD", 165, 850, 11), ("SUDAN", 257, 856, 11), ("ERITREA", 332, 842, 7),
    ("DJIBOUTI", 390, 877, 5), ("ETHIOPIA", 343, 910, 11), ("SOMALIA", 465, 923, 11), ("SOUTH<br>SUDAN", 261, 917, 7), ("NIGERIA", 67, 909, 11),
    ("CENTRAL AFRICAN<br>REPUBLIC", 180, 921, 6), ("EQ. GUINEA", 55, 957, 6), ("GABON", 103, 980, 8), ("DR CONGO", 200, 1003, 11), ("KENYA", 328, 970, 10), ("BURUNDI", 278, 1007, 5),
    ("TANZANIA", 303, 1034, 9), ("ANGOLA", 153, 1084, 9), ("ZAMBIA", 225, 1088, 9), ("MALAWI", 285, 1083, 5), ("ZIMBABWE", 255, 1130, 6), ("MOZAMBIQUE", 332, 1123, 7),
    ("NAMIBIA", 150, 1147, 9), ("SOUTH AFRICA", 212, 1239, 12), ("ESWATINI", 298, 1200, 5), ("LESOTHO", 220, 1210, 5), ("TÜRKIYE", 306, 643, 11), ("SYRIA", 336, 678, 9),
    ("IRAQ", 377, 703, 10), ("IRAN", 467, 687, 11), ("CYPRUS", 270, 677, 5), ("LEBANON", 293, 692, 5), ("JORDAN", 323, 719, 5), ("KUWAIT", 418, 753, 5), ("QATAR", 461, 768, 5),
    ("U.A.E.", 470, 778, 5), ("SAUDI ARABIA", 395, 786, 11), ("AZERBAIJAN", 430, 628, 5), ("GEORGIA", 378, 612, 5), ("K A Z A K H S T A N", 600, 552, 11),
    ("TURKMENISTAN", 508, 642, 7), ("KYRGYZSTAN", 648, 618, 6), ("TAJIKISTAN", 617, 645, 5), ("INDIA", 683, 809, 11), ("BHUTAN", 779, 735, 6), ("BANGLADESH", 778, 770, 6),
    ("SRI LANKA", 722, 929, 6), ("M O N G O L I A", 893, 573, 11), ("C H I N A", 862, 683, 19), ("NORTH KOREA", 1122, 632, 7), ("SOUTH KOREA", 1128, 662, 7), ("JAPAN", 1247, 653, 9),
    ("HONG KONG", 1015, 792, 5), ("TAIWAN", 1064, 779, 5), ("MYANMAR", 835, 800, 7), ("LAOS", 885, 808, 7), ("THAILAND", 882, 848, 7), ("VIETNAM", 965, 856, 7), ("CAMBODIA", 907, 866, 6),
    ("PHILIPPINES", 1127, 860, 10), ("BRUNEI", 975, 929, 6), ("M A L A Y S I A", 937, 951, 11), ("SINGAPORE", 920, 966, 5), ("I N D O N E S I A", 1053, 995, 15),
    ("TIMOR-LESTE", 1115, 1052, 6), ("PAPUA NEW GUINEA", 1293, 1032, 8), ("A U S T R A L I A", 1162, 1191, 16), ("NEW ZEALAND", 1432, 1297, 9),
]
EAST = 1568
rotated_labels = [
    ("MOROCCO", 1522, 712, 9, -35), ("GUATEMALA", 747, 867, 6, -15), ("EL SALVADOR", 775, 877, 5, -10), ("NICARAGUA", 800, 885, 6, -15), ("COSTA RICA", 813, 907, 7, -10),
    ("PANAMA", 851, 925, 6, -20), ("GUYANA", 1085, 890, 9, -55), ("SURINAME", 1110, 900, 8, -55), ("NORWAY", 82 + EAST, 410, 8, -60), ("CAMEROON", 110 + EAST, 935, 7, -40),
    ("CONGO", 142 + EAST, 985, 7, -60), ("UGANDA", 282 + EAST, 968, 6, -50), ("BOTSWANA", 212 + EAST, 1162, 8, -20), ("MADAGASCAR", 410 + EAST, 1135, 8, -65),
    ("OMAN", 487 + EAST, 813, 10, -35), ("YEMEN", 421 + EAST, 846, 9, -10), ("UZBEKISTAN", 545 + EAST, 622, 8, 30), ("AFGHANISTAN", 572 + EAST, 680, 8, -20),
    ("PAKISTAN", 590 + EAST, 738, 10, -15), ("NEPAL", 715 + EAST, 737, 7, 15),
]


def scaled(s):
    return round(s * 1.12, 1) if 8 <= s < 14 else s


lab = [(t, x, y, s) for t, x, y, s in west_labels] + [(t, x + EAST, y, s) for t, x, y, s in east_labels]
fig.add_trace(go.Scatter(x=[l[1] for l in lab], y=[l[2] for l in lab], text=[l[0] for l in lab], xaxis="x2", yaxis="y2", mode="text", hoverinfo="skip",
                         textfont=dict(family=SANS, size=[scaled(l[3]) for l in lab], color="#7A2230")))
for t, x, y, s, a in rotated_labels:
    annotations.append(dict(x=x, y=y, xref="x2", yref="y2", text=t, textangle=a, showarrow=False, font=dict(family=SANS, size=scaled(s), color="#7A2230")))

# ---------- map legend ----------
region_names = ["North America", "South America", "Oceania", "Asia", "Europe", "Africa"]
region_colors = [C_NA, C_SA, C_OC, C_AS, C_EU, C_AF]
region_y = [1046, 1090, 1134, 1178, 1222, 1266]
fig.add_trace(go.Scatter(x=[290] * 6, y=region_y, xaxis="x2", yaxis="y2", mode="markers", hoverinfo="skip",
                         marker=dict(symbol="square", size=21, color=region_colors, line=dict(color="#333333", width=0.8))))
fig.add_trace(go.Scatter(x=[331] * 6, y=region_y, text=region_names, xaxis="x2", yaxis="y2", mode="text", textposition="middle right", hoverinfo="skip",
                         textfont=dict(family="DejaVu Sans", size=17, color="#333333")))

# ---------- watermark ----------
mark_chars = ["河", "南", "農", "業", "大", "學", "新", "闻", "中", "心"]
mark_x = [100, 275, 440, 605, 750, 910, 1090, 1225, 1340, 1460]
mark_size = [100, 100, 100, 100, 100, 100, 90, 90, 90, 90]
OUT = "1px 1px 1px #777, -1px -1px 1px #999, 1px -1px 1px #999, -1px 1px 1px #999"
fig.add_trace(go.Scatter(x=[v + EAST for v in mark_x], y=[1335] * 10, text=mark_chars, xaxis="x2", yaxis="y2", mode="text", hoverinfo="skip",
                         textfont=dict(family="Noto Sans CJK TC", size=mark_size, color="#F2F2F2", shadow=OUT)))
fig.add_trace(go.Scatter(x=[775 + EAST], y=[1480], text=["https://www.henau.edu.cn"], xaxis="x2", yaxis="y2", mode="text", hoverinfo="skip",
                         textfont=dict(family=SANS, size=83, color="#F2F2F2", shadow=OUT)))
fig.add_trace(go.Scatter(x=[30 + EAST, 1540 + EAST], y=[1403, 1403], xaxis="x2", yaxis="y2", mode="lines", hoverinfo="skip",
                         line=dict(color="#BDBDBD", width=4)))
fig.add_trace(go.Scatter(x=[1360 + EAST], y=[1526], text=["<b>Created with mapchart.net</b>"], xaxis="x2", yaxis="y2", mode="text", hoverinfo="skip",
                         textfont=dict(family=SANS, size=11.5, color="#111111")))

hidden = dict(visible=False, fixedrange=True)
fig.update_layout(
    width=W, height=H, margin=dict(l=0, r=0, t=0, b=0), paper_bgcolor="white", plot_bgcolor="rgba(0,0,0,0)", showlegend=False,
    shapes=shapes, annotations=annotations,
    xaxis=dict(range=[0, W], domain=[0, 1], **hidden),
    yaxis=dict(range=[H, 0], domain=[0, 1], **hidden),
    xaxis2=dict(range=[0, 3136], domain=[0, 1], anchor="y2", **hidden),
    yaxis2=dict(range=[1568, 0], domain=[0, (H - 1190) / H], anchor="x2", **hidden),
)
fig.write_html("out.html", config=dict(displayModeBar=False),
               post_script="document.body.style.margin='0';document.body.style.overflow='hidden';")
